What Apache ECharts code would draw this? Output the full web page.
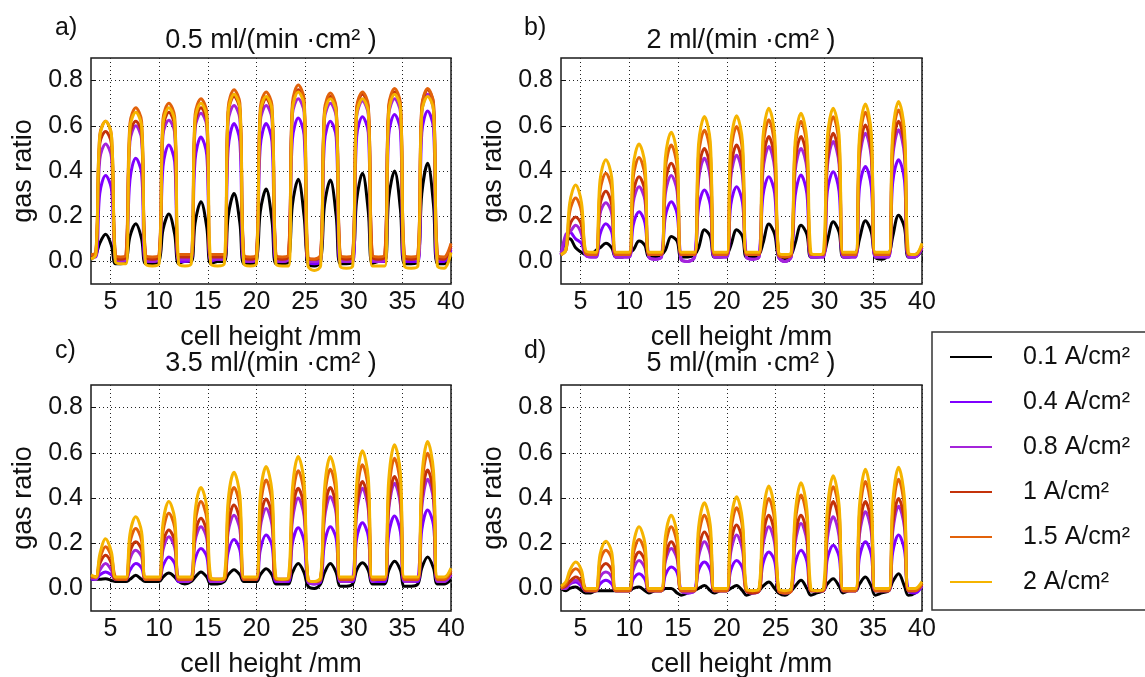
<!DOCTYPE html>
<html><head><meta charset="utf-8">
<script src="https://cdn.jsdelivr.net/npm/echarts@6/dist/echarts.min.js"></script>
<style>html,body{margin:0;padding:0;background:#fff}#c{width:1145px;height:677px}</style>
</head><body><div id="c"></div>
<script>
// x positions (cell height, mm) shared by all curves
const xs = [3.0,
 3.5,3.9,4.5,5.1,5.5,6.05,
 6.6,7.0,7.6,8.2,8.6,9.3,
 10.0,10.4,11.0,11.6,12.0,12.65,
 13.3,13.7,14.3,14.9,15.3,16.0,
 16.7,17.1,17.7,18.3,18.7,19.35,
 20.0,20.4,21.0,21.6,22.0,22.65,
 23.3,23.7,24.3,24.9,25.3,25.95,
 26.6,27.0,27.6,28.2,28.6,29.25,
 29.9,30.3,30.9,31.5,31.9,32.55,
 33.2,33.6,34.2,34.8,35.2,35.9,
 36.6,37.0,37.6,38.2,38.6,39.3,
 40.0];

const seriesNames = ['0.1 A/cm²','0.4 A/cm²','0.8 A/cm²','1 A/cm²','1.5 A/cm²','2 A/cm²'];
const panelTitles = ['0.5 ml/(min ·cm² )','2 ml/(min ·cm² )','3.5 ml/(min ·cm² )','5 ml/(min ·cm² )'];
const panelLetters = ['a)','b)','c)','d)'];
const xTicks = [5,10,15,20,25,30,35,40];
const yTicks = [0,0.2,0.4,0.6,0.8];

// ---- panel a) 0.5 ml/(min cm2)
const a_01 = [0.01, 0.03,0.08,0.12,0.07,-0.01,-0.01, 0.0,0.11,0.167,0.10,-0.01,-0.01, 0.0,0.14,0.21,0.12,-0.01,0.0, 0.0,0.17,0.264,0.15,-0.01,0.0, 0.0,0.20,0.30,0.17,-0.01,-0.01, 0.0,0.22,0.32,0.18,-0.01,-0.01, 0.0,0.25,0.363,0.20,-0.01,-0.02, 0.0,0.25,0.36,0.20,-0.01,-0.01, 0.0,0.27,0.39,0.22,-0.01,0.0, 0.0,0.28,0.40,0.23,-0.01,-0.01, 0.0,0.30,0.434,0.25,-0.01,-0.01, 0.02];
const a_04 = [0.02, 0.02,0.30,0.38,0.32,0.01,0.0, 0.01,0.36,0.456,0.39,0.0,0.0, 0.01,0.42,0.515,0.44,0.0,0.0, 0.01,0.45,0.55,0.47,0.0,0.01, 0.01,0.50,0.61,0.53,0.0,0.0, 0.01,0.51,0.61,0.53,0.0,0.0, 0.01,0.54,0.634,0.56,0.0,-0.01, 0.0,0.53,0.62,0.55,0.0,0.0, 0.0,0.55,0.64,0.57,0.0,0.0, 0.0,0.56,0.65,0.58,0.0,0.0, 0.0,0.57,0.665,0.59,0.0,0.0, 0.05];
const a_08 = [0.02, 0.03,0.45,0.52,0.46,0.01,0.0, 0.01,0.53,0.60,0.54,0.01,0.0, 0.01,0.56,0.625,0.57,0.01,0.01, 0.01,0.59,0.655,0.60,0.01,0.01, 0.01,0.62,0.69,0.63,0.01,0.0, 0.01,0.62,0.69,0.63,0.01,0.0, 0.01,0.65,0.72,0.66,0.0,0.0, 0.01,0.63,0.70,0.64,0.01,0.0, 0.01,0.64,0.71,0.65,0.01,0.0, 0.01,0.65,0.72,0.66,0.01,0.01, 0.01,0.66,0.74,0.67,0.01,0.01, 0.06];
const a_10 = [0.02, 0.03,0.52,0.575,0.52,0.02,0.01, 0.02,0.56,0.62,0.57,0.02,0.01, 0.02,0.59,0.66,0.60,0.02,0.02, 0.02,0.61,0.68,0.62,0.02,0.02, 0.02,0.66,0.73,0.67,0.02,0.01, 0.02,0.65,0.72,0.66,0.02,0.01, 0.02,0.68,0.76,0.70,0.01,0.01, 0.02,0.66,0.73,0.67,0.02,0.01, 0.02,0.67,0.74,0.68,0.02,0.01, 0.02,0.68,0.75,0.69,0.02,0.01, 0.02,0.68,0.76,0.70,0.02,0.01, 0.07];
const a_15 = [0.03, 0.04,0.56,0.62,0.56,0.03,0.02, 0.03,0.61,0.68,0.62,0.03,0.02, 0.03,0.63,0.70,0.64,0.03,0.03, 0.03,0.65,0.72,0.66,0.03,0.03, 0.03,0.68,0.76,0.70,0.03,0.02, 0.03,0.68,0.75,0.69,0.03,0.02, 0.03,0.70,0.78,0.72,0.02,0.01, 0.03,0.67,0.745,0.68,0.03,0.02, 0.03,0.68,0.75,0.69,0.03,0.02, 0.03,0.69,0.765,0.70,0.03,0.02, 0.03,0.69,0.765,0.70,0.03,0.02, 0.08];
const a_20 = [0.01, 0.03,0.55,0.62,0.56,0.0,-0.01, -0.01,0.59,0.66,0.60,-0.01,-0.02, -0.01,0.61,0.68,0.62,-0.01,-0.02, -0.01,0.63,0.70,0.64,-0.01,-0.02, -0.01,0.66,0.74,0.68,-0.01,-0.02, -0.01,0.66,0.73,0.67,-0.01,-0.02, -0.02,0.67,0.75,0.69,-0.02,-0.04, -0.02,0.65,0.72,0.66,-0.02,-0.03, -0.02,0.65,0.72,0.66,-0.02,-0.02, -0.02,0.66,0.74,0.68,-0.02,-0.03, -0.02,0.66,0.73,0.67,-0.02,-0.03, 0.04];

// ---- panel b) 2 ml/(min cm2)
const b_01 = [0.04, 0.09,0.10,0.06,0.04,0.03,0.03, 0.05,0.06,0.08,0.06,0.02,0.02, 0.04,0.05,0.09,0.07,0.02,0.02, 0.03,0.05,0.11,0.09,0.02,0.02, 0.03,0.06,0.14,0.11,0.02,0.02, 0.03,0.07,0.14,0.11,0.02,0.02, 0.03,0.08,0.165,0.12,0.02,0.01, 0.03,0.08,0.16,0.12,0.02,0.02, 0.03,0.09,0.175,0.13,0.02,0.02, 0.03,0.10,0.18,0.13,0.02,0.01, 0.03,0.11,0.204,0.15,0.02,0.02, 0.05];
const b_04 = [0.03, 0.10,0.13,0.10,0.08,0.03,0.02, 0.02,0.12,0.167,0.13,0.02,0.02, 0.02,0.16,0.22,0.17,0.02,0.01, 0.02,0.20,0.264,0.21,0.01,0.0, 0.02,0.24,0.316,0.25,0.02,0.02, 0.02,0.25,0.33,0.26,0.02,0.01, 0.02,0.29,0.375,0.30,0.02,0.0, 0.02,0.29,0.382,0.30,0.02,0.02, 0.02,0.31,0.397,0.31,0.02,0.02, 0.02,0.33,0.42,0.33,0.02,0.02, 0.02,0.35,0.45,0.36,0.02,0.02, 0.06];
const b_08 = [0.03, 0.12,0.13,0.16,0.12,0.03,0.02, 0.02,0.21,0.26,0.21,0.02,0.02, 0.02,0.26,0.33,0.27,0.02,0.01, 0.02,0.30,0.38,0.31,0.01,0.0, 0.02,0.36,0.456,0.37,0.02,0.02, 0.02,0.37,0.47,0.38,0.02,0.01, 0.02,0.40,0.508,0.41,0.02,0.0, 0.02,0.40,0.50,0.41,0.02,0.02, 0.02,0.42,0.53,0.43,0.02,0.02, 0.02,0.45,0.567,0.46,0.02,0.02, 0.02,0.46,0.582,0.47,0.02,0.02, 0.06];
const b_10 = [0.03, 0.05,0.16,0.197,0.16,0.04,0.03, 0.03,0.25,0.31,0.25,0.03,0.03, 0.03,0.30,0.375,0.31,0.03,0.03, 0.03,0.35,0.434,0.36,0.03,0.03, 0.03,0.40,0.50,0.41,0.03,0.03, 0.03,0.41,0.515,0.42,0.03,0.03, 0.03,0.44,0.553,0.45,0.03,0.02, 0.03,0.44,0.553,0.45,0.03,0.03, 0.03,0.45,0.567,0.46,0.03,0.03, 0.03,0.48,0.604,0.49,0.03,0.03, 0.03,0.50,0.62,0.51,0.03,0.03, 0.07];
const b_15 = [0.03, 0.05,0.22,0.28,0.22,0.04,0.03, 0.03,0.31,0.39,0.32,0.03,0.03, 0.03,0.37,0.46,0.38,0.03,0.03, 0.03,0.41,0.515,0.42,0.03,0.03, 0.03,0.47,0.58,0.48,0.03,0.03, 0.03,0.48,0.597,0.49,0.03,0.03, 0.03,0.50,0.627,0.51,0.03,0.02, 0.03,0.50,0.62,0.51,0.03,0.03, 0.03,0.51,0.64,0.52,0.03,0.03, 0.03,0.53,0.66,0.54,0.03,0.03, 0.03,0.54,0.67,0.55,0.03,0.03, 0.07];
const b_20 = [0.03, 0.05,0.26,0.338,0.26,0.05,0.04, 0.04,0.36,0.45,0.37,0.04,0.04, 0.04,0.42,0.52,0.43,0.04,0.04, 0.04,0.46,0.572,0.47,0.04,0.04, 0.04,0.52,0.641,0.53,0.04,0.04, 0.04,0.52,0.644,0.53,0.04,0.04, 0.04,0.55,0.678,0.56,0.04,0.03, 0.04,0.53,0.656,0.54,0.04,0.03, 0.04,0.55,0.678,0.56,0.04,0.04, 0.04,0.56,0.696,0.57,0.04,0.04, 0.04,0.57,0.708,0.58,0.04,0.03, 0.08];

// ---- panel c) 3.5 ml/(min cm2)
const c_01 = [0.04, 0.04,0.04,0.043,0.035,0.03,0.03, 0.03,0.04,0.058,0.04,0.03,0.03, 0.03,0.05,0.068,0.05,0.03,0.02, 0.03,0.05,0.073,0.05,0.02,0.02, 0.03,0.06,0.083,0.06,0.03,0.03, 0.03,0.06,0.087,0.06,0.02,0.02, 0.02,0.07,0.11,0.07,0.01,0.0, 0.02,0.07,0.11,0.07,0.01,0.01, 0.02,0.08,0.113,0.08,0.02,0.02, 0.02,0.08,0.12,0.08,0.01,0.01, 0.02,0.09,0.139,0.09,0.02,0.02, 0.04];
const c_04 = [0.04, 0.04,0.06,0.073,0.06,0.04,0.04, 0.04,0.08,0.11,0.09,0.04,0.04, 0.04,0.10,0.139,0.11,0.03,0.03, 0.04,0.13,0.176,0.14,0.03,0.03, 0.04,0.16,0.216,0.17,0.04,0.04, 0.04,0.17,0.236,0.19,0.03,0.03, 0.03,0.20,0.268,0.21,0.03,0.02, 0.03,0.20,0.273,0.22,0.03,0.03, 0.03,0.22,0.29,0.23,0.03,0.03, 0.03,0.24,0.32,0.25,0.03,0.03, 0.03,0.26,0.347,0.28,0.03,0.03, 0.06];
const c_08 = [0.05, 0.04,0.08,0.11,0.08,0.04,0.04, 0.04,0.13,0.169,0.14,0.04,0.04, 0.04,0.17,0.228,0.18,0.04,0.03, 0.04,0.21,0.273,0.22,0.03,0.03, 0.04,0.25,0.324,0.26,0.04,0.04, 0.04,0.27,0.354,0.28,0.04,0.03, 0.04,0.30,0.40,0.32,0.03,0.02, 0.04,0.31,0.406,0.33,0.03,0.03, 0.04,0.33,0.443,0.35,0.03,0.04, 0.04,0.35,0.465,0.37,0.03,0.03, 0.04,0.36,0.483,0.39,0.03,0.03, 0.06];
const c_10 = [0.05, 0.05,0.11,0.147,0.11,0.04,0.04, 0.04,0.16,0.206,0.17,0.04,0.04, 0.04,0.20,0.258,0.21,0.04,0.04, 0.04,0.24,0.31,0.25,0.04,0.04, 0.04,0.28,0.369,0.30,0.04,0.04, 0.04,0.30,0.396,0.32,0.04,0.04, 0.04,0.34,0.443,0.36,0.04,0.03, 0.04,0.34,0.447,0.36,0.04,0.04, 0.04,0.36,0.473,0.38,0.04,0.04, 0.04,0.37,0.495,0.40,0.04,0.04, 0.04,0.40,0.524,0.42,0.04,0.04, 0.07];
const c_15 = [0.05, 0.05,0.13,0.184,0.14,0.05,0.04, 0.04,0.20,0.265,0.21,0.04,0.04, 0.04,0.25,0.332,0.27,0.04,0.04, 0.04,0.29,0.384,0.31,0.04,0.04, 0.04,0.34,0.447,0.36,0.04,0.04, 0.04,0.36,0.48,0.38,0.04,0.04, 0.04,0.39,0.521,0.42,0.04,0.03, 0.04,0.40,0.527,0.42,0.04,0.04, 0.04,0.41,0.547,0.44,0.04,0.04, 0.04,0.43,0.576,0.46,0.04,0.04, 0.04,0.45,0.598,0.48,0.04,0.04, 0.08];
const c_20 = [0.06, 0.05,0.15,0.22,0.16,0.05,0.05, 0.05,0.24,0.317,0.25,0.05,0.05, 0.05,0.29,0.384,0.31,0.05,0.05, 0.05,0.34,0.447,0.36,0.05,0.04, 0.05,0.39,0.514,0.41,0.05,0.05, 0.05,0.41,0.539,0.43,0.05,0.04, 0.05,0.44,0.584,0.47,0.04,0.03, 0.05,0.44,0.584,0.47,0.05,0.05, 0.05,0.46,0.609,0.49,0.05,0.05, 0.05,0.48,0.636,0.51,0.05,0.05, 0.05,0.49,0.65,0.52,0.05,0.05, 0.09];

// ---- panel d) 5 ml/(min cm2)
const d_01 = [0.0, -0.01,0.0,0.006,-0.01,-0.02,-0.02, -0.01,-0.01,-0.01,-0.01,-0.01,-0.01, -0.01,0.0,0.006,-0.01,-0.02,-0.01, -0.01,0.0,0.0,-0.02,-0.03,-0.02, -0.01,0.0,0.013,-0.01,-0.02,-0.01, -0.01,0.0,0.013,-0.01,-0.03,-0.02, -0.01,0.01,0.028,0.0,-0.02,-0.03, -0.01,0.01,0.036,0.0,-0.03,-0.02, -0.01,0.02,0.043,0.01,-0.02,-0.01, -0.01,0.02,0.05,0.01,-0.03,-0.02, -0.01,0.03,0.065,0.01,-0.03,-0.02, 0.01];
const d_04 = [0.0, 0.0,0.02,0.028,0.01,-0.01,-0.01, -0.01,0.02,0.036,0.02,-0.01,-0.01, -0.01,0.04,0.065,0.04,-0.01,-0.01, -0.01,0.06,0.095,0.07,-0.01,-0.02, -0.01,0.08,0.117,0.08,-0.01,-0.01, -0.01,0.08,0.124,0.09,-0.01,-0.02, -0.01,0.11,0.161,0.12,-0.01,-0.02, -0.01,0.11,0.169,0.12,-0.01,-0.01, -0.01,0.13,0.191,0.14,-0.01,-0.01, -0.01,0.14,0.206,0.15,-0.01,-0.01, -0.01,0.16,0.236,0.17,-0.01,-0.02, 0.01];
const d_08 = [0.0, 0.0,0.02,0.036,0.02,-0.01,-0.01, -0.01,0.05,0.073,0.05,-0.01,-0.01, -0.01,0.08,0.124,0.09,-0.01,-0.01, -0.01,0.12,0.176,0.13,-0.01,-0.02, -0.01,0.14,0.206,0.15,-0.01,-0.01, -0.01,0.16,0.236,0.17,-0.01,-0.02, -0.01,0.19,0.273,0.20,-0.01,-0.02, -0.01,0.20,0.287,0.21,-0.01,-0.01, -0.01,0.22,0.317,0.23,-0.01,-0.01, -0.01,0.24,0.339,0.25,-0.01,-0.01, -0.01,0.25,0.364,0.27,-0.01,-0.01, 0.01];
const d_10 = [0.0, 0.01,0.03,0.05,0.03,-0.01,-0.01, -0.01,0.08,0.11,0.08,-0.01,-0.01, -0.01,0.11,0.161,0.12,-0.01,-0.01, -0.01,0.14,0.206,0.15,-0.01,-0.01, -0.01,0.17,0.25,0.19,-0.01,-0.01, -0.01,0.20,0.28,0.21,-0.01,-0.02, -0.01,0.23,0.324,0.24,-0.01,-0.02, -0.01,0.23,0.324,0.24,-0.01,-0.01, -0.01,0.27,0.384,0.29,-0.01,-0.01, -0.01,0.27,0.384,0.29,-0.01,-0.01, -0.01,0.28,0.398,0.30,-0.01,-0.01, 0.02];
const d_15 = [0.0, 0.02,0.06,0.087,0.06,0.0,-0.01, -0.01,0.12,0.169,0.13,-0.01,-0.01, -0.01,0.15,0.216,0.16,-0.01,-0.01, -0.01,0.19,0.273,0.20,-0.01,-0.01, -0.01,0.23,0.324,0.24,-0.01,-0.01, -0.01,0.25,0.357,0.27,-0.01,-0.01, -0.01,0.28,0.398,0.30,-0.01,-0.02, -0.01,0.29,0.413,0.31,-0.01,-0.01, -0.01,0.32,0.45,0.34,-0.01,-0.01, -0.01,0.33,0.473,0.35,-0.01,-0.01, -0.01,0.34,0.483,0.36,-0.01,-0.01, 0.02];
const d_20 = [0.01, 0.03,0.08,0.117,0.08,0.0,0.0, 0.0,0.15,0.209,0.16,0.0,0.0, 0.0,0.19,0.273,0.20,0.0,0.0, 0.0,0.23,0.324,0.24,0.0,0.0, 0.0,0.27,0.379,0.28,0.0,0.0, 0.0,0.29,0.406,0.30,0.0,-0.01, 0.0,0.32,0.453,0.34,0.0,-0.01, 0.0,0.33,0.468,0.35,0.0,-0.01, 0.0,0.35,0.498,0.37,0.0,0.0, 0.0,0.37,0.527,0.39,0.0,0.0, 0.0,0.38,0.536,0.40,0.0,0.0, 0.03];

const panelData = [
  [a_01,a_04,a_08,a_10,a_15,a_20],
  [b_01,b_04,b_08,b_10,b_15,b_20],
  [c_01,c_04,c_08,c_10,c_15,c_20],
  [d_01,d_04,d_08,d_10,d_15,d_20]
];

// ---- styling / layout
const FF = 'Liberation Sans, Arial, sans-serif';
const TXT = '#111';
const colors = ['#000000','#7f00ff','#a424da','#c4320a','#e2620a','#f5b400'];
const gridBoxes = [
  {left:91, top:58, width:360, height:226},
  {left:561, top:58, width:361, height:226},
  {left:91, top:385, width:360, height:226},
  {left:561, top:385, width:361, height:226}
];
const titlePos = [[271,41],[741,41],[271,364],[741,364]];
const letterPos = [[55,28],[524,28],[55,351],[524,351]];

const grids = gridBoxes.map(g => Object.assign({show:true, borderColor:'#1a1a1a', borderWidth:1.5, backgroundColor:'transparent', containLabel:false, outerBoundsMode:'none'}, g));
const xAxes = gridBoxes.map((g,i) => ({
  type:'value', gridIndex:i, min:3, max:40,
  name:'cell height /mm', nameLocation:'middle', nameGap:40,
  nameTextStyle:{fontSize:27, color:TXT, fontFamily:FF},
  axisLine:{show:false},
  axisTick:{show:true, inside:true, length:5, customValues:xTicks, lineStyle:{color:'#111', width:1}},
  axisLabel:{customValues:xTicks, fontSize:25, color:TXT, margin:6, fontFamily:FF},
  splitLine:{show:true, lineStyle:{type:[1,3], color:'#222', width:1}}
}));
const yAxes = gridBoxes.map((g,i) => ({
  type:'value', gridIndex:i, min:-0.1, max:0.9,
  name:'gas ratio', nameLocation:'middle', nameGap:54,
  nameTextStyle:{fontSize:27, color:TXT, fontFamily:FF},
  axisLine:{show:false},
  axisTick:{show:true, inside:true, length:5, customValues:yTicks, lineStyle:{color:'#111', width:1}},
  axisLabel:{customValues:yTicks, fontSize:25, color:TXT, margin:8, fontFamily:FF, formatter: v => Number(v).toFixed(1)},
  splitLine:{show:true, lineStyle:{type:[1,3], color:'#222', width:1}}
}));

const series = [];
panelData.forEach((arrs, p) => {
  arrs.forEach((ys, k) => {
    series.push({
      type:'line', name:seriesNames[k], xAxisIndex:p, yAxisIndex:p,
      data: xs.map((x,j) => [x, ys[j]]),
      symbol:'none', smooth:0.35, clip:true,
      lineStyle:{width:3, color:colors[k]}, itemStyle:{color:colors[k]},
      emphasis:{disabled:true}, z: 2 + k
    });
  });
});

const graphics = [];
panelTitles.forEach((t,i) => {
  graphics.push({type:'text', x:titlePos[i][0], y:titlePos[i][1], style:{text:t, fontSize:27, fontFamily:FF, fill:TXT, align:'center', verticalAlign:'middle', textAlign:'center', textVerticalAlign:'middle'}});
  graphics.push({type:'text', x:letterPos[i][0], y:letterPos[i][1], style:{text:panelLetters[i], fontSize:25, fontFamily:FF, fill:TXT, align:'left', verticalAlign:'middle', textAlign:'left', textVerticalAlign:'middle'}});
});
graphics.push({type:'rect', shape:{x:932, y:332, width:260, height:278}, style:{fill:'none', stroke:'#333', lineWidth:1.5}, z:-1});

const chart = echarts.init(document.getElementById('c'), null, {renderer:'canvas'});
chart.setOption({
  animation:false,
  backgroundColor:'#ffffff',
  grid: grids, xAxis: xAxes, yAxis: yAxes,
  legend:{orient:'vertical', left:950, top:342, itemWidth:42, itemHeight:2, itemGap:15, padding:0,
    icon:'rect', data: seriesNames, selectedMode:false,
    textStyle:{fontSize:25, color:TXT, lineHeight:30, padding:[0,0,0,26], fontFamily:FF}},
  graphic: graphics,
  series: series
});
</script></body></html>
